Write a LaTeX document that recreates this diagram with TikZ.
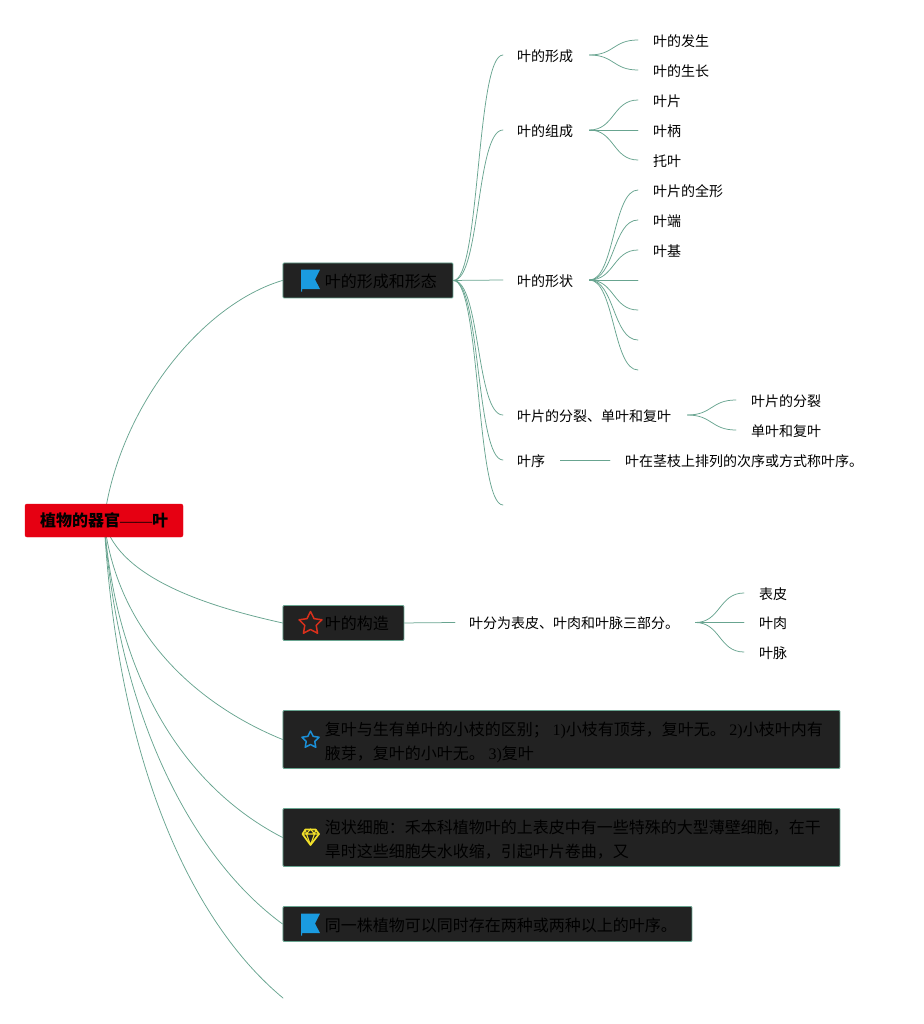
\documentclass[tikz,border=0pt]{standalone}
\usepackage{fontspec}
\setmainfont{Liberation Serif}
\newfontfamily\cjk{Noto Sans CJK SC}
\usetikzlibrary{backgrounds,shapes.geometric}
\definecolor{linkc}{HTML}{68A490}
\definecolor{boxc}{HTML}{222222}
\definecolor{rootc}{HTML}{E60012}
\definecolor{flagc}{HTML}{1A9BE0}
\definecolor{starr}{HTML}{D9301C}
\definecolor{starb}{HTML}{1B8FD6}
\definecolor{gemc}{HTML}{F2E02A}
\newcommand{\boxtext}[3][-3.5pt]{\hspace*{42pt}\raisebox{#1}[0pt][0pt]{\parbox[c]{#2}{\baselineskip=24pt\relax\fontsize{16pt}{24pt}\selectfont\cjk #3}}}
\tikzset{
  topic/.style={draw=linkc,line width=0.9pt,fill=boxc,rounded corners=1pt,inner sep=0pt,anchor=north west,text=black},
  rootbox/.style={fill=rootc,draw=rootc,rounded corners=2pt,inner sep=0pt,minimum width=158pt,minimum height=33pt,text=black,font=\fontsize{16pt}{20pt}\selectfont\cjk\bfseries},
  leaf/.style={anchor=west,inner sep=0pt,text height=14pt,text depth=1.4pt,font=\fontsize{14pt}{16pt}\selectfont\cjk,text=black},
  link/.style={draw=linkc,line width=0.75pt,line cap=round},
  br/.style={out=0,in=180,relative=false,out distance=#1,in distance=#1},
  flagicon/.pic={\fill[flagc] (0,0) -- (19,0) -- (14,10) -- (19,19.5) -- (1,19.5) -- (1,22) -- (0,22) -- cycle;},
  staricon/.style={star,star points=5,star point ratio=2,line join=round,inner sep=0pt},
}
\begin{document}
\begin{tikzpicture}[x=1pt,y=-1pt]
\useasboundingbox (0,0) rectangle (923,1024);
% root and topics
\node[rootbox] (root) at (104,520.5) {植物的器官{\rmfamily\mdseries ——}叶};
\node[topic,minimum width=170pt,minimum height=35pt] (t1) at (282.5,262.5) {\boxtext{128pt}{叶的形成和形态}};
\node[topic,minimum width=121pt,minimum height=35pt] (t2) at (282.5,605) {\boxtext[-2.5pt]{79pt}{叶的构造}};
\node[topic,minimum width=557pt,minimum height=58pt] (t3) at (282.5,710) {\boxtext[-5pt]{515pt}{复叶与生有单叶的小枝的区别；\ {\rmfamily 1)}小枝有顶芽，复叶无。\ {\rmfamily 2)}小枝叶内有\\腋芽，复叶的小叶无。\ {\rmfamily 3)}复叶}};
\node[topic,minimum width=557pt,minimum height=58pt] (t4) at (282.5,808) {\boxtext[-4.5pt]{515pt}{泡状细胞：禾本科植物叶的上表皮中有一些特殊的大型薄壁细胞，在干\\旱时这些细胞失水收缩，引起叶片卷曲，又}};
\node[topic,minimum width=409pt,minimum height=35pt] (t5) at (282.5,906) {\boxtext{367pt}{同一株植物可以同时存在两种或两种以上的叶序。}};
% icons
\pic at (301,269.5) {flagicon};
\pic at (301,913.5) {flagicon};
\node[staricon,draw=starr,line width=1.5pt,minimum size=24pt] (istar1) at (310.5,623.5) {};
\node[staricon,draw=starb,line width=1.5pt,minimum size=18pt] (istar2) at (310.5,740) {};
\draw[gemc,line width=1.7pt,line join=round] (305.5,829.5) -- (315.5,829.5) -- (319,834) -- (310.5,845) -- (302.5,834) -- cycle;
\draw[gemc,line width=1.1pt,line join=round] (302,834) -- (319.5,834) (306.5,834) -- (310.5,845) -- (314.5,834) (305,829) -- (306.5,834) -- (310.5,829) -- (314.5,834) -- (316,829);
% level-two labels
\node[leaf] (a1) at (517,55) {叶的形成};
\node[leaf] (a2) at (517,130) {叶的组成};
\node[leaf] (a3) at (517,280) {叶的形状};
\node[leaf] (a4) at (517,415) {叶片的分裂、单叶和复叶};
\node[leaf] (a5) at (517,460) {叶序};
\coordinate (a6) at (503,505);
\node[leaf] (b1) at (653,40) {叶的发生};
\node[leaf] (b2) at (653,70) {叶的生长};
\node[leaf] (c1) at (653,100) {叶片};
\node[leaf] (c2) at (653,130) {叶柄};
\node[leaf] (c3) at (653,160) {托叶};
\node[leaf] (d1) at (653,190) {叶片的全形};
\node[leaf] (d2) at (653,220) {叶端};
\node[leaf] (d3) at (653,250) {叶基};
\coordinate (d4) at (638,280);
\coordinate (d5) at (638,310);
\coordinate (d6) at (638,340);
\coordinate (d7) at (638,370);
\node[leaf] (e1) at (751,400) {叶片的分裂};
\node[leaf] (e2) at (751,430) {单叶和复叶};
\node[leaf] (f1) at (625,460) {叶在茎枝上排列的次序或方式称叶序。};
\node[leaf] (g0) at (469,622.5) {叶分为表皮、叶肉和叶脉三部分。};
\node[leaf] (g1) at (759,593) {表皮};
\node[leaf] (g2) at (759,622.5) {叶肉};
\node[leaf] (g3) at (759,652) {叶脉};
\coordinate (t6) at (283,998);
% connectors
\begin{scope}[on background layer]
\draw[link] (root.center) .. controls (118,410) and (200,305) .. (t1.west);
\draw[link] (root.center) .. controls (118,580) and (215,608) .. (t2.west);
\draw[link] (root.center) .. controls (118,640) and (205,708) .. (t3.west);
\draw[link] (root.center) .. controls (118,700) and (200,795) .. (t4.west);
\draw[link] (root.center) .. controls (118,720) and (195,860) .. (t5.west);
\draw[link] (root.center) .. controls (118,770) and (195,925) .. (t6);
\draw[link] (t1.east) to[br=27pt] ([xshift=-14pt]a1.west);
\draw[link] (t1.east) to[br=27pt] ([xshift=-14pt]a2.west);
\draw[link] (t1.east) -- ([xshift=-14pt]a3.west);
\draw[link] (t1.east) to[br=27pt] ([xshift=-14pt]a4.west);
\draw[link] (t1.east) to[br=27pt] ([xshift=-14pt]a5.west);
\draw[link] (t1.east) to[br=27pt] (a6);
\draw[link] ([xshift=16pt]a1.east) to[br=25pt] ([xshift=-15pt]b1.west);
\draw[link] ([xshift=16pt]a1.east) to[br=25pt] ([xshift=-15pt]b2.west);
\draw[link] ([xshift=16pt]a2.east) to[br=25pt] ([xshift=-15pt]c1.west);
\draw[link] ([xshift=16pt]a2.east) -- ([xshift=-15pt]c2.west);
\draw[link] ([xshift=16pt]a2.east) to[br=25pt] ([xshift=-15pt]c3.west);
\draw[link] ([xshift=16pt]a3.east) to[br=25pt] ([xshift=-15pt]d1.west);
\draw[link] ([xshift=16pt]a3.east) to[br=25pt] ([xshift=-15pt]d2.west);
\draw[link] ([xshift=16pt]a3.east) to[br=25pt] ([xshift=-15pt]d3.west);
\draw[link] ([xshift=16pt]a3.east) -- (d4);
\draw[link] ([xshift=16pt]a3.east) to[br=25pt] (d5);
\draw[link] ([xshift=16pt]a3.east) to[br=25pt] (d6);
\draw[link] ([xshift=16pt]a3.east) to[br=25pt] (d7);
\draw[link] ([xshift=16pt]a4.east) to[br=25pt] ([xshift=-15pt]e1.west);
\draw[link] ([xshift=16pt]a4.east) to[br=25pt] ([xshift=-15pt]e2.west);
\draw[link] ([xshift=15pt]a5.east) -- ([xshift=-15pt]f1.west);
\draw[link] (t2.east) -- ([xshift=-14pt]g0.west);
\draw[link] ([xshift=16pt]g0.east) to[br=25pt] ([xshift=-15pt]g1.west);
\draw[link] ([xshift=16pt]g0.east) -- ([xshift=-15pt]g2.west);
\draw[link] ([xshift=16pt]g0.east) to[br=25pt] ([xshift=-15pt]g3.west);
\end{scope}
\end{tikzpicture}
\end{document}
